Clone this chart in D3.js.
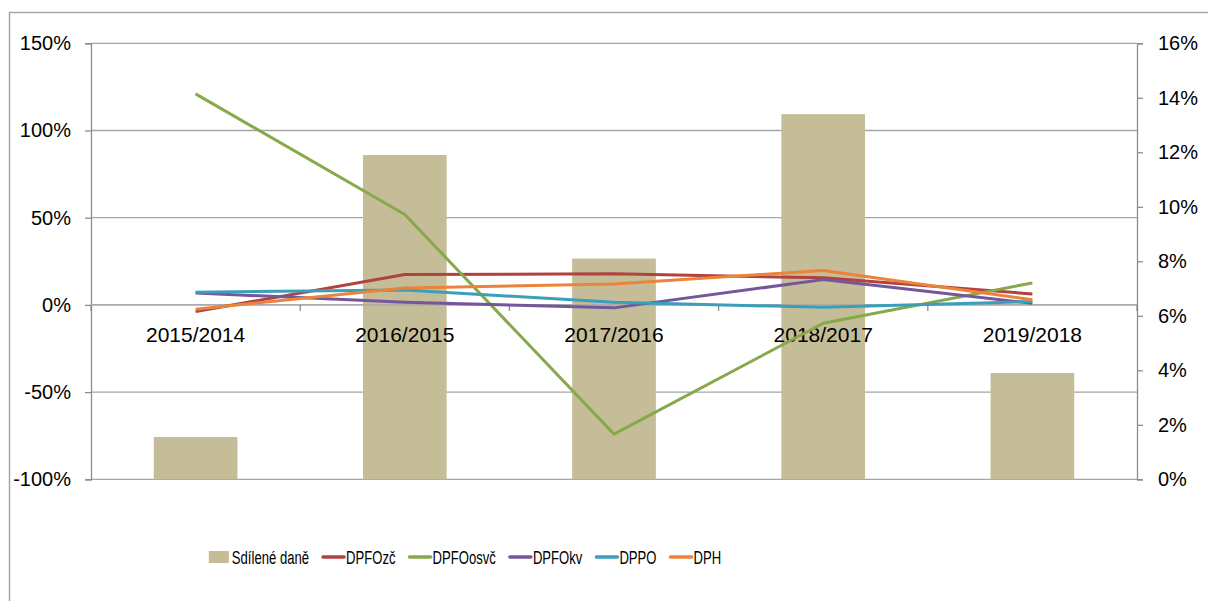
<!DOCTYPE html>
<html lang="cs">
<head>
<meta charset="UTF-8">
<title>Sdílené daně</title>
<script src="https://d3js.org/d3.v7.min.js"></script>
<style>
    body { margin: 0; background: #fff; }
    svg { display: block; }
    .tick-label { font-family: "Liberation Sans", Arial, sans-serif; font-size: 20px; fill: #000; }
    .cat-label { font-family: "Liberation Sans", Arial, sans-serif; font-size: 21px; fill: #000; }
    .legend text { font-family: "Liberation Sans", Arial, sans-serif; font-size: 19px; fill: #000; }
    .grid line { stroke: #a6a6a6; stroke-width: 1.3px; }
    .series { fill: none; stroke-width: 3px; stroke-linejoin: round; }
</style>
</head>
<body>
<div id="chart"></div>
<script>
// data
const categories = ["2015/2014", "2016/2015", "2017/2016", "2018/2017", "2019/2018"];
const sdileneDane = [1.55, 11.9, 8.1, 13.4, 3.9];     // right axis, %
const dpfoZc   = [-3.8, 17.4, 17.8, 15.5, 6.3];      // left axis, %
const dpfoOsvc = [121, 51.8, -74.1, -10.5, 12.6];
const dpfoKv   = [6.8, 1.5, -1.7, 14.5, 0.9];
const dppo     = [7.3, 8.6, 1.5, -1.4, 1.9];
const dph      = [-2.5, 9.7, 12, 19.7, 2.9];
const leftTicks = [-100, -50, 0, 50, 100, 150];
const rightTicks = [0, 2, 4, 6, 8, 10, 12, 14, 16];

const lineSeries = [
    { name: "DPFOzč",   values: dpfoZc,   color: "#b0423f" },
    { name: "DPFOosvč", values: dpfoOsvc, color: "#87a94a" },
    { name: "DPFOkv",   values: dpfoKv,   color: "#73569b" },
    { name: "DPPO",     values: dppo,     color: "#3a9fbb" },
    { name: "DPH",      values: dph,      color: "#eb843a" }
];
const barColor = "#c4bd97";

const width = 1208, height = 601;
const plot = { left: 91, right: 1137, top: 43.3, bottom: 479.3 };

const svg = d3.select("#chart").append("svg")
    .attr("width", width)
    .attr("height", height);

// outer chart frame (cut off at right / bottom)
svg.append("rect")
    .attr("x", 9.5).attr("y", 12.5)
    .attr("width", 1300).attr("height", 700)
    .attr("fill", "none")
    .attr("stroke", "#a6a6a6")
    .attr("stroke-width", 1.5);

const x = d3.scaleBand()
    .domain(categories)
    .range([plot.left, plot.right])
    .paddingInner(0.6)
    .paddingOuter(0.3);

const yLeft = d3.scaleLinear().domain([-100, 150]).range([plot.bottom, plot.top]);
const yRight = d3.scaleLinear().domain([0, 16]).range([plot.bottom, plot.top]);

// gridlines
svg.append("g").attr("class", "grid")
    .selectAll("line")
    .data(leftTicks)
    .join("line")
    .attr("x1", plot.left).attr("x2", plot.right)
    .attr("y1", d => yLeft(d)).attr("y2", d => yLeft(d));

// left axis
const leftAxis = svg.append("g")
    .attr("transform", `translate(${plot.left},0)`)
    .call(d3.axisLeft(yLeft).tickValues(leftTicks).tickSize(6).tickPadding(14)
        .tickFormat(d => d + "%"));
leftAxis.selectAll("path, line").attr("stroke", "#8c8c8c").attr("stroke-width", 1.3);
leftAxis.selectAll("text").attr("class", "tick-label").attr("font-family", null).attr("font-size", null);

// right axis
const rightAxis = svg.append("g")
    .attr("transform", `translate(${plot.right},0)`)
    .call(d3.axisRight(yRight).tickValues(rightTicks).tickSize(6).tickPadding(15)
        .tickFormat(d => d + "%"));
rightAxis.selectAll("path, line").attr("stroke", "#8c8c8c").attr("stroke-width", 1.3);
rightAxis.selectAll("text").attr("class", "tick-label").attr("font-family", null).attr("font-size", null);

// bars (right axis)
svg.append("g")
    .selectAll("rect")
    .data(categories)
    .join("rect")
    .attr("x", d => x(d))
    .attr("width", x.bandwidth())
    .attr("y", (d, i) => yRight(sdileneDane[i]))
    .attr("height", (d, i) => yRight(0) - yRight(sdileneDane[i]))
    .attr("fill", barColor);

// category axis at 0 %
const y0 = yLeft(0);
const catAxis = svg.append("g");
catAxis.append("line")
    .attr("x1", plot.left).attr("x2", plot.right)
    .attr("y1", y0).attr("y2", y0)
    .attr("stroke", "#a6a6a6").attr("stroke-width", 1.3);
const step = x.step();
catAxis.selectAll(".cat-tick")
    .data(d3.range(categories.length + 1))
    .join("line")
    .attr("class", "cat-tick")
    .attr("x1", i => plot.left + i * step).attr("x2", i => plot.left + i * step)
    .attr("y1", y0).attr("y2", y0 + 6)
    .attr("stroke", "#8c8c8c").attr("stroke-width", 1.3);
catAxis.selectAll(".cat-label")
    .data(categories)
    .join("text")
    .attr("class", "cat-label")
    .attr("x", d => x(d) + x.bandwidth() / 2)
    .attr("y", y0 + 37)
    .attr("text-anchor", "middle")
    .text(d => d);

// lines (left axis)
const line = d3.line()
    .x((d, i) => x(categories[i]) + x.bandwidth() / 2)
    .y(d => yLeft(d));

svg.append("g")
    .selectAll("path")
    .data(lineSeries)
    .join("path")
    .attr("class", "series")
    .attr("stroke", d => d.color)
    .attr("d", d => line(d.values));

// legend (text squeezed horizontally, like the condensed original)
const legendItems = [{ name: "Sdílené daně", color: barColor, bar: true }]
    .concat(lineSeries.map(s => ({ name: s.name, color: s.color, bar: false })));

const squeeze = 0.69;
const legend = svg.append("g").attr("class", "legend");
const ly = 557;
let lx = 0;
legendItems.forEach(item => {
    const g = legend.append("g").attr("transform", `translate(${lx},0)`);
    if (item.bar) {
        g.append("rect").attr("x", 0).attr("y", ly - 6).attr("width", 20).attr("height", 12).attr("fill", item.color);
    } else {
        g.append("line").attr("x1", 0).attr("x2", 21).attr("y1", ly).attr("y2", ly)
            .attr("stroke", item.color).attr("stroke-width", 3.5).attr("stroke-linecap", "round");
    }
    const t = g.append("text")
        .attr("transform", `translate(23,${ly + 7}) scale(${squeeze},1)`)
        .text(item.name);
    lx += 23 + t.node().getComputedTextLength() * squeeze + 14;
});
const legendWidth = lx - 14;
legend.attr("transform", `translate(${465 - legendWidth / 2},0)`);
</script>
</body>
</html>
